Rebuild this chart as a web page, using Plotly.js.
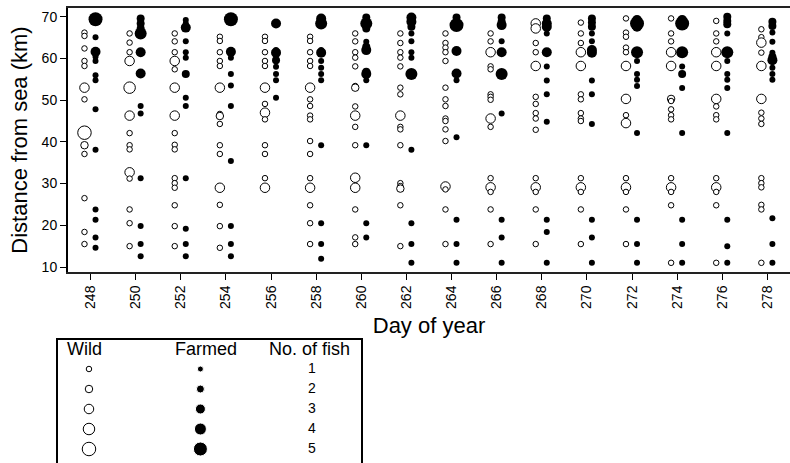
<!DOCTYPE html>
<html>
<head>
<meta charset="utf-8">
<script src="https://cdn.plot.ly/plotly-3.0.1.min.js"></script>
<style>html,body{margin:0;padding:0;background:#fff;}#chart{width:790px;height:463px;}</style>
</head>
<body>
<div id="chart"></div>
<script>
// Day of year (x categories)
const days = [248,250,252,254,256,258,260,262,264,266,268,270,272,274,276,278];
const dayTicks = [248,250,252,254,256,258,260,262,264,266,268,270,272,274,276,278];
const distTicks = [10,20,30,40,50,60,70];

// Wild fish: distance from sea (km) per day, and number of fish per point
const wildKm = [
  [66.2,65.4,62.4,59.4,58.2,53.0,50.2,42.2,39.2,37.1,26.5,18.4,15.5],
  [66.0,63.8,61.5,59.4,53.0,46.3,42.1,39.2,38.2,32.7,31.2,23.8,20.5,15.0],
  [66.0,64.1,61.5,59.4,57.4,53.0,46.3,42.1,39.3,38.2,31.3,30.1,29.0,24.8,19.8,15.0],
  [65.2,64.2,61.5,59.4,58.2,53.0,46.7,46.2,44.3,39.2,37.1,29.0,24.9,19.8,14.6],
  [65.2,64.2,61.5,59.4,58.2,53.0,49.1,47.0,45.4,39.2,37.1,31.3,29.0],
  [65.2,64.2,61.5,59.4,58.2,53.0,50.2,48.6,46.3,45.4,40.2,37.1,31.3,29.0,24.8,20.5,15.5],
  [66.0,64.1,61.5,60.2,58.1,53.4,53.0,48.5,46.3,43.6,39.2,31.4,29.0,23.8,17.1,15.5],
  [66.0,63.7,61.5,60.2,58.1,53.0,51.4,46.3,43.6,43.0,39.2,30.1,29.4,28.8,24.8,15.0],
  [66.0,63.7,62.6,61.5,59.4,53.0,50.2,48.6,45.6,45.0,43.0,40.2,29.3,28.6,23.8,15.5],
  [66.0,64.1,61.5,58.1,57.4,51.4,50.8,50.1,45.6,43.6,31.3,29.1,28.0,23.8,15.5],
  [68.4,67.2,63.7,61.5,58.2,50.8,49.1,46.9,45.6,42.9,31.3,29.1,28.0,23.8,15.5],
  [68.6,66.0,63.7,61.5,58.2,51.4,50.2,46.9,45.6,45.0,31.3,29.1,28.0,23.8,15.5],
  [69.6,66.2,65.2,62.6,61.5,58.2,50.3,46.4,44.5,31.3,29.1,28.0,23.8,15.5],
  [69.6,66.0,64.1,61.5,58.2,50.3,49.8,47.8,46.4,45.4,31.3,29.1,28.0,24.8,11.0],
  [69.0,66.0,64.1,61.5,58.2,50.3,48.5,46.4,45.4,31.3,29.1,28.0,24.8,11.0],
  [67.0,65.1,63.8,61.4,58.2,50.3,47.0,45.6,44.3,31.3,30.1,29.1,24.9,23.8,11.0]
];
const wildN = [
  [1,1,1,1,1,3,1,5,2,1,1,1,1],
  [1,1,1,3,4,3,1,1,1,3,1,1,1,1],
  [1,1,1,3,1,3,3,1,1,1,1,1,1,1,1,1],
  [1,1,1,1,1,3,1,2,1,1,1,3,1,1,1],
  [1,1,1,1,1,3,1,3,1,1,1,1,3],
  [1,1,1,1,1,3,1,1,1,1,1,1,1,3,1,1,1],
  [1,1,1,1,1,1,2,1,3,1,1,3,3,1,1,1],
  [1,1,1,1,1,1,1,3,1,1,1,1,1,2,1,1],
  [1,1,1,1,1,1,1,1,1,1,1,1,3,1,1,1],
  [1,1,3,1,1,1,1,1,3,1,1,3,1,1,1],
  [3,3,1,1,3,1,1,1,1,1,1,3,1,1,1],
  [1,1,1,3,3,1,1,1,1,1,1,3,1,1,1],
  [1,1,1,1,1,3,3,1,3,1,3,1,1,1],
  [1,1,1,3,3,2,1,1,1,1,1,3,1,1,1],
  [1,1,1,3,3,3,1,1,1,1,3,1,1,1],
  [1,1,3,1,3,3,1,1,1,1,1,1,1,1,1]
];

// Farmed fish: distance from sea (km) per day, and number of fish per point
const farmedKm = [
  [69.4,65.1,61.6,60.4,59.4,56.0,54.8,47.8,38.1,23.8,21.3,17.1,14.6],
  [69.6,68.4,67.2,66.0,61.5,56.4,48.6,46.8,31.3,19.8,15.5,12.6],
  [69.2,68.4,67.4,64.1,61.5,60.2,56.3,50.6,48.6,31.3,19.2,15.5,12.6],
  [69.4,61.6,60.2,56.3,53.5,48.6,35.4,19.8,15.5,12.6],
  [68.4,62.0,61.4,59.6,58.0,56.3,54.8,50.6],
  [69.6,68.4,62.0,61.4,59.4,57.8,56.3,54.8,39.2,20.5,15.5,12.0],
  [69.8,68.4,67.2,64.0,62.8,62.0,56.8,56.3,54.8,39.2,20.5,17.1],
  [69.8,68.8,67.6,66.0,64.1,61.5,60.2,56.3,38.1,20.5,15.5,11.0],
  [69.8,68.0,61.8,56.4,54.8,41.1,21.3,15.5,11.0],
  [69.8,68.8,68.0,64.1,61.5,56.3,46.8,21.3,17.1,11.0],
  [69.6,68.4,67.6,66.0,61.5,58.1,54.7,51.4,44.8,21.3,18.4,11.0],
  [69.6,68.6,67.6,66.0,64.1,62.0,61.4,54.7,51.4,44.3,21.3,17.1,11.0],
  [69.2,68.4,67.6,61.5,59.4,56.3,54.9,53.4,42.1,21.3,15.5,11.0],
  [69.2,68.4,61.5,58.1,56.3,52.9,42.1,21.3,15.5,11.0],
  [70.0,69.0,68.2,66.0,61.5,59.4,56.3,54.9,52.9,42.1,21.3,15.0,11.0],
  [68.8,67.8,66.2,64.0,61.4,60.4,59.6,57.8,56.3,54.9,21.7,15.5,11.0]
];
const farmedN = [
  [5,1,3,1,1,1,1,1,1,1,1,1,1],
  [2,2,2,4,3,3,1,1,1,1,1,1],
  [1,1,3,1,1,1,2,1,1,1,1,1,1],
  [5,3,1,1,1,1,1,1,1,1],
  [3,1,3,2,1,1,1,1],
  [3,4,1,3,1,1,1,1,1,1,1,1],
  [2,4,2,1,2,3,2,3,1,1,1,1],
  [3,3,2,1,1,1,1,4,1,1,1,1],
  [2,5,3,3,1,1,1,1,1],
  [2,2,3,1,3,4,1,1,1,1],
  [2,3,3,1,3,1,1,1,1,1,1,1],
  [2,2,2,1,1,3,3,1,1,1,1,1,1],
  [3,5,3,4,1,1,1,1,1,1,1,1],
  [3,5,4,1,2,1,1,1,1,1],
  [2,2,2,1,4,1,1,1,1,1,1,1,1],
  [2,2,1,1,1,2,3,1,1,1,1,1,1]
];

// Legend
const fishCounts = [1,2,3,4,5];
const legendHeaders = ['Wild','Farmed','No. of fish'];

// ---- style ----
const FONT = 'Liberation Sans, Arial, sans-serif';
const NARROW = 'Liberation Sans Narrow, Liberation Sans, Arial, sans-serif';
const wildOffset = -0.27, farmedOffset = 0.22;
function wildSize(n){ return 3.5 + 2*n; }
function farmSize(n){ return 4 + 2*n; }

function flatten(kmArr, nArr, off){
  const x=[], y=[], n=[];
  days.forEach((d,i)=>{
    kmArr[i].forEach((v,j)=>{ x.push(d+off); y.push(v); n.push(nArr[i][j]); });
  });
  return {x,y,n};
}
const W = flatten(wildKm, wildN, wildOffset);
const F = flatten(farmedKm, farmedN, farmedOffset);

const traces = [
  {type:'scatter', mode:'markers', x:W.x, y:W.y, xaxis:'x', yaxis:'y', showlegend:false,
   marker:{symbol:'circle', color:'#ffffff', opacity:1, size:W.n.map(wildSize), line:{color:'#000', width:1}}},
  {type:'scatter', mode:'markers', x:F.x, y:F.y, xaxis:'x', yaxis:'y', showlegend:false,
   marker:{symbol:'circle', color:'#000000', opacity:1, size:F.n.map(farmSize), line:{width:0}}},
  // legend block
  {type:'scatter', mode:'markers', x:fishCounts.map(()=>0), y:fishCounts, xaxis:'x2', yaxis:'y2', showlegend:false,
   marker:{symbol:'circle', color:'#ffffff', opacity:1, size:fishCounts.map(wildSize), line:{color:'#000', width:1}}},
  {type:'scatter', mode:'markers', x:fishCounts.map(()=>1), y:fishCounts, xaxis:'x2', yaxis:'y2', showlegend:false,
   marker:{symbol:'circle', color:'#000', opacity:1, size:fishCounts.map(farmSize)}},
  {type:'scatter', mode:'text', x:fishCounts.map(()=>2), y:fishCounts, xaxis:'x2', yaxis:'y2', showlegend:false,
   text:fishCounts.map(String), textposition:'middle center', textfont:{family:FONT, size:14, color:'#000'}}
];

const H = 463, Wd = 790;
const layout = {
  width:Wd, height:H,
  margin:{l:0, r:0, t:0, b:0},
  paper_bgcolor:'#fff', plot_bgcolor:'#fff',
  showlegend:false,
  xaxis:{
    domain:[68/Wd, 1], range:[247, 279],
    tickvals:dayTicks, ticktext:dayTicks.map(String), tickangle:-90,
    ticks:'outside', ticklen:6, tickcolor:'#000', tickwidth:1,
    tickfont:{family:FONT, size:14, color:'#000'},
    showgrid:false, zeroline:false, showline:true, linecolor:'#222', linewidth:2, mirror:true,
    title:{text:'Day of year', font:{family:NARROW, size:22, color:'#000'}, standoff:10},
    automargin:false, fixedrange:true, anchor:'y'
  },
  yaxis:{
    domain:[(H-272)/H, (H-8)/H], range:[8.8, 72.1],
    tickvals:distTicks, ticks:'outside', ticklen:6, tickcolor:'#000', tickwidth:1,
    tickfont:{family:FONT, size:14, color:'#000'},
    showgrid:false, zeroline:false, showline:true, linecolor:'#000', linewidth:2,
    title:{text:'Distance from sea (km)', font:{family:NARROW, size:22, color:'#000'}, standoff:8},
    automargin:false, fixedrange:true, anchor:'x'
  },
  xaxis2:{
    domain:[57/Wd, 362/Wd], range:[-0.287, 2.45], anchor:'y2',
    showgrid:false, zeroline:false, showline:false, showticklabels:false, ticks:'', fixedrange:true
  },
  yaxis2:{
    domain:[0, (H-339)/H], range:[5.7, -0.5], anchor:'x2',
    showgrid:false, zeroline:false, showline:false, showticklabels:false, ticks:'', fixedrange:true
  },
  shapes:[
    {type:'rect', xref:'paper', yref:'paper', x0:57/Wd, x1:362/Wd, y0:-0.05, y1:(H-339)/H,
     line:{color:'#000', width:2}, fillcolor:'rgba(0,0,0,0)'}
  ],
  annotations:[
    {xref:'x2', yref:'y2', x:-0.04, y:0, text:legendHeaders[0], showarrow:false, xanchor:'center', yanchor:'middle',
     font:{family:FONT, size:18, color:'#000'}},
    {xref:'x2', yref:'y2', x:1.05, y:0, text:legendHeaders[1], showarrow:false, xanchor:'center', yanchor:'middle',
     font:{family:FONT, size:18, color:'#000'}},
    {xref:'x2', yref:'y2', x:1.98, y:0, text:legendHeaders[2], showarrow:false, xanchor:'center', yanchor:'middle',
     font:{family:FONT, size:18, color:'#000'}}
  ]
};

Plotly.newPlot('chart', traces, layout, {displayModeBar:false, staticPlot:true});
</script>
</body>
</html>
